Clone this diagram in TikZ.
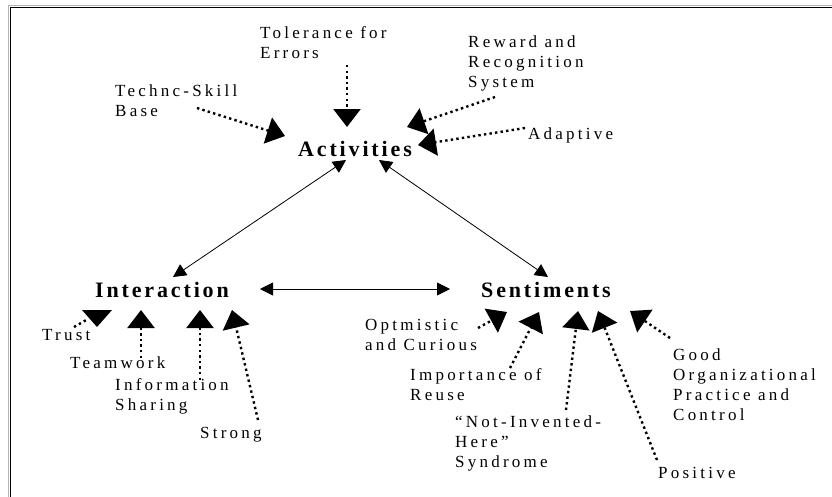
\documentclass[tikz,border=0pt]{standalone}
\usepackage{fontspec}
\setmainfont[LetterSpace=19]{Liberation Serif}
\newfontfamily\headfont[LetterSpace=13]{Liberation Serif Bold}
\usetikzlibrary{arrows.meta,calc}
\tikzset{
  lab/.style={font=\fontsize{17}{20}\selectfont, align=left, inner sep=0pt, anchor=base west},
  head/.style={font=\fontsize{22}{26}\selectfont\headfont, inner sep=0pt, anchor=base},
  dotarr/.style={line width=2.4pt, dash pattern=on 2.4pt off 3.2pt, -{Triangle[width=27pt,length=18pt]}},
  dotline/.style={line width=2.4pt, dash pattern=on 2.4pt off 3.2pt},
  thinarr/.style={line width=0.8pt, {Triangle[width=13pt,length=13pt]}-{Triangle[width=13pt,length=13pt]}}
}
\begin{document}
\begin{tikzpicture}[x=1pt,y=-1pt]
\useasboundingbox (0,0) rectangle (832,496);
\fill[white] (0,0) rectangle (832,496);
% frame
\draw[gray!60, line width=1pt] (8.5,497) -- (8.5,5.5) -- (833,5.5);
\draw[black, line width=1.5pt] (10.5,497) -- (10.5,7.5) -- (833,7.5);

% main nodes
\node[head] (act) at (355,156) {Activities};
\node[head] (inter) at (162,297) {Interaction};
\node[head] (sent) at (546,297) {Sentiments};

% labels (anchor = baseline of last line)
\node[lab] (tol) at (260,58) {Tolerance for\\Errors};
\node[lab] (tech) at (115,116) {Technc-Skill\\Base};
\node[lab] (rew) at (468,87) {Reward and\\Recognition\\System};
\node[lab] (adap) at (528,139) {Adaptive};
\node[lab] (trust) at (42,340) {Trust};
\node[lab] (team) at (70,368) {Teamwork};
\node[lab] (info) at (115,410) {Information\\Sharing};
\node[lab] (strong) at (200,438) {Strong};
\node[lab] (opt) at (365,350) {Optmistic\\and Curious};
\node[lab] (imp) at (410,400) {Importance of\\Reuse};
\node[lab] (nih) at (455,467) {“Not-Invented-\\Here”\\Syndrome};
\node[lab] (pos) at (658,478) {Positive};
\node[lab] (good) at (673,420) {Good\\Organizational\\Practice and\\Control};

% solid double arrows
\draw[thinarr] ([shift={(-9,4)}]act.base) -- ([shift={(11,-20)}]inter.base);
\draw[thinarr] ([shift={(24,4)}]act.base) -- ([shift={(2,-20)}]sent.base);
\draw[thinarr] ([shift={(98,-8)}]inter.base) -- ([shift={(-96,-8)}]sent.base);

% dotted arrows into Activities
\draw[dotarr] ([shift={(87,7)}]tol.base west) -- ([shift={(-8,-29)}]act.base);
\draw[dotarr] ([shift={(82,-8)}]tech.base west) -- ([shift={(-70,-20)}]act.base);
\draw[dotarr] ([shift={(27,10)}]rew.base west) -- ([shift={(52,-29)}]act.base);
\draw[dotarr] ([shift={(-3,-11)}]adap.base west) -- ([shift={(63,-11)}]act.base);

% dotted arrows into Interaction
\draw[dotline] ([shift={(32,-13)}]trust.base west) -- ([shift={(46,-21)}]trust.base west);
\fill ([shift={(40,-30)}]trust.base west) -- ([shift={(70,-30)}]trust.base west) -- ([shift={(55,-13)}]trust.base west) -- cycle;
\draw[dotarr] ([shift={(71,-10)}]team.base west) -- ([shift={(-21,13)}]inter.base);
\draw[dotarr] ([shift={(85,-30)}]info.base west) -- ([shift={(38,13)}]inter.base);
\draw[dotarr] ([shift={(58,-18)}]strong.base west) -- ([shift={(70,13)}]inter.base);

% dotted arrows into Sentiments
\draw[dotarr] ([shift={(113,-22)}]opt.base west) -- ([shift={(-39,15)}]sent.base);
\draw[dotarr] ([shift={(100,-32)}]imp.base west) -- ([shift={(-7,15)}]sent.base);
\draw[dotarr] ([shift={(111,-57)}]nih.base west) -- ([shift={(32,14)}]sent.base);
\draw[dotarr] ([shift={(-1,-18)}]pos.base west) -- ([shift={(52,14)}]sent.base);
\draw[dotarr] ([shift={(-3,-82)}]good.base west) -- ([shift={(84,14)}]sent.base);
\end{tikzpicture}
\end{document}
